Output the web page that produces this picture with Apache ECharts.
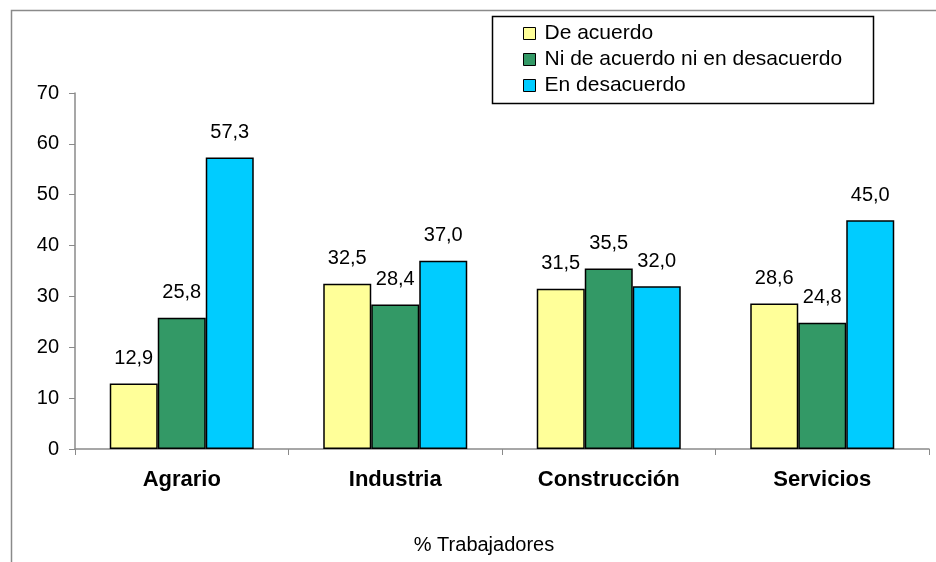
<!DOCTYPE html>
<html>
<head>
<meta charset="utf-8">
<script src="https://cdn.jsdelivr.net/npm/echarts@6/dist/echarts.min.js"></script>
<style>
  html, body { margin: 0; padding: 0; background: #fff; }
  #chart { width: 936px; height: 562px; }
</style>
</head>
<body>
<div id="chart"></div>
<script>
// datos
const categories = ['Agrario', 'Industria', 'Construcción', 'Servicios'];
const deAcuerdo = [12.9, 32.5, 31.5, 28.6];
const niNi = [25.8, 28.4, 35.5, 24.8];
const enDesacuerdo = [57.3, 37.0, 32.0, 45.0];
const seriesNames = ['De acuerdo', 'Ni de acuerdo ni en desacuerdo', 'En desacuerdo'];
const yTicks = [0, 10, 20, 30, 40, 50, 60, 70];

const colors = ['#FFFF99', '#339966', '#00CCFF'];
const axisColor = '#8a8a8a';
const font = 'Arial, "Liberation Sans", sans-serif';

let chart = echarts.init(document.getElementById('chart'));

function barSeries(name, data) {
  return {
    name: name,
    type: 'bar',
    barWidth: 48,
    barGap: '0%',
    data: data,
    itemStyle: { borderColor: '#000', borderWidth: 1.5 },
    label: {
      show: true,
      position: 'top',
      distance: 15,
      color: '#000',
      fontFamily: font,
      fontSize: 20,
      formatter: p => p.value.toFixed(1).replace('.', ',')
    }
  };
}

chart.setOption({
  animation: false,
  color: colors,
  textStyle: { fontFamily: font, color: '#000' },
  grid: { left: 75, right: 7, top: 93, bottom: 113, containLabel: false },
  legend: {
    orient: 'vertical',
    left: 518,
    top: 18,
    itemWidth: 12,
    itemHeight: 12,
    itemGap: 5,
    icon: 'rect',
    itemStyle: { borderColor: '#000', borderWidth: 1 },
    textStyle: { fontSize: 21, color: '#000', fontFamily: font, padding: [0, 0, 0, 4] },
    data: seriesNames
  },
  graphic: [
    {
      type: 'rect',
      shape: { x: 11.5, y: 10.5, width: 1200, height: 1200 },
      style: { fill: 'none', stroke: axisColor, lineWidth: 1.5 },
      silent: true
    },
    {
      type: 'rect',
      shape: { x: 492.5, y: 16.5, width: 381, height: 87 },
      style: { fill: 'none', stroke: '#000', lineWidth: 1.5 },
      silent: true
    },
    {
      type: 'text',
      x: 484,
      y: 545,
      style: {
        text: '% Trabajadores',
        fill: '#000',
        font: '20px ' + font,
        align: 'center',
        verticalAlign: 'middle'
      }
    }
  ],
  xAxis: {
    type: 'category',
    data: categories,
    axisLine: { lineStyle: { color: axisColor, width: 1.5 } },
    axisTick: { show: true, length: 6, lineStyle: { color: axisColor } },
    axisLabel: {
      margin: 20,
      color: '#000',
      fontFamily: font,
      fontSize: 22,
      fontWeight: 'bold'
    }
  },
  yAxis: {
    type: 'value',
    min: yTicks[0],
    max: yTicks[yTicks.length - 1],
    interval: 10,
    splitLine: { show: false },
    axisLine: { show: true, lineStyle: { color: axisColor, width: 1.5 } },
    axisTick: { show: true, length: 6, lineStyle: { color: axisColor } },
    axisLabel: { margin: 16, color: '#000', fontFamily: font, fontSize: 20 }
  },
  series: [
    barSeries(seriesNames[0], deAcuerdo),
    barSeries(seriesNames[1], niNi),
    barSeries(seriesNames[2], enDesacuerdo)
  ]
});

window.addEventListener('resize', function () {
  chart.resize();
});
</script>
</body>
</html>
